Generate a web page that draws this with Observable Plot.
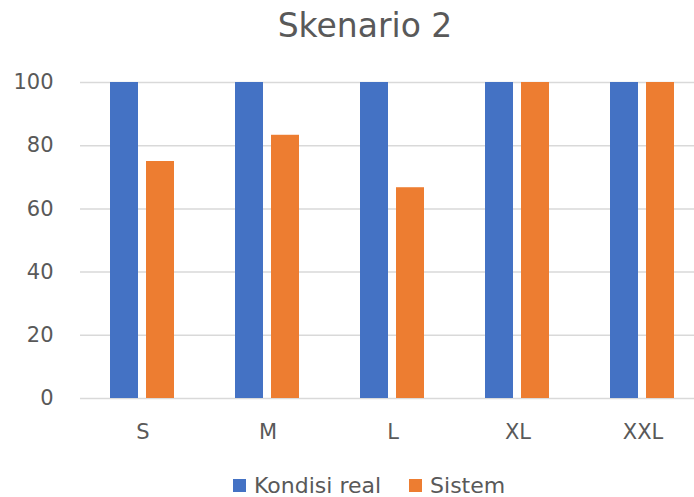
<!DOCTYPE html>
<html><head><meta charset="utf-8">
<script src="https://cdn.jsdelivr.net/npm/d3@7"></script>
<script src="https://cdn.jsdelivr.net/npm/@observablehq/plot@0.6"></script>
<style>
html,body{margin:0;padding:0;overflow:hidden;background:#fff;width:694px;height:497px;}
body{position:relative;font-family:"DejaVu Sans",sans-serif;color:#595959;}
#title{position:absolute;left:0;top:0;width:730px;height:52px;line-height:52px;text-align:center;font-size:33px;}
#chart{position:absolute;left:0;top:60px;width:705px;}
#chart svg{max-width:none !important;}
#legend{position:absolute;left:233px;top:476px;height:19px;line-height:19px;display:flex;align-items:center;font-size:22px;gap:28px;white-space:nowrap;}
.item{display:flex;align-items:center;height:19px;line-height:19px;}
.sw{width:13px;height:13px;margin-right:8px;display:inline-block;}
</style>
</head><body>
<div id="title">Skenario 2</div>
<div id="chart"></div>
<div id="legend"></div>
<script>
const categories = ["S","M","L","XL","XXL"];
const series = ["Kondisi real","Sistem"];
const kondisiReal = [100,100,100,100,100];
const sistem = [75,83.3,66.7,100,100];
const colors = ["#4472C4","#ED7D31"];
const yTicks = [0,20,40,60,80,100];

const data = [];
categories.forEach((c,i)=>{
  data.push({cat:c, series:series[0], value:kondisiReal[i]});
  data.push({cat:c, series:series[1], value:sistem[i]});
});

const chart = Plot.plot({
  width:705, height:400,
  marginLeft:80, marginRight:0, marginTop:22, marginBottom:62,
  style:{fontFamily:"DejaVu Sans", fontSize:"21px", color:"#595959", background:"white", maxWidth:"none"},
  fx:{domain:categories, padding:0, label:null, axis:"bottom", tickSize:0, tickPadding:26},
  x:{domain:series, axis:null, paddingInner:0.222, paddingOuter:0.847},
  y:{domain:[0,100], ticks:yTicks, label:null, tickSize:0, tickPadding:27},
  color:{domain:series, range:colors},
  marks:[
    Plot.ruleY(yTicks,{stroke:"#d9d9d9", strokeWidth:1.5}),
    Plot.barY(data,{fx:"cat", x:"series", y:"value", fill:"series"})
  ]
});
document.getElementById("chart").appendChild(chart);

const legend = document.getElementById("legend");
series.forEach((s,i)=>{
  const it = document.createElement("div"); it.className="item";
  const sw = document.createElement("span"); sw.className="sw"; sw.style.background=colors[i];
  it.appendChild(sw);
  it.appendChild(document.createTextNode(s));
  legend.appendChild(it);
});
</script>
</body></html>
